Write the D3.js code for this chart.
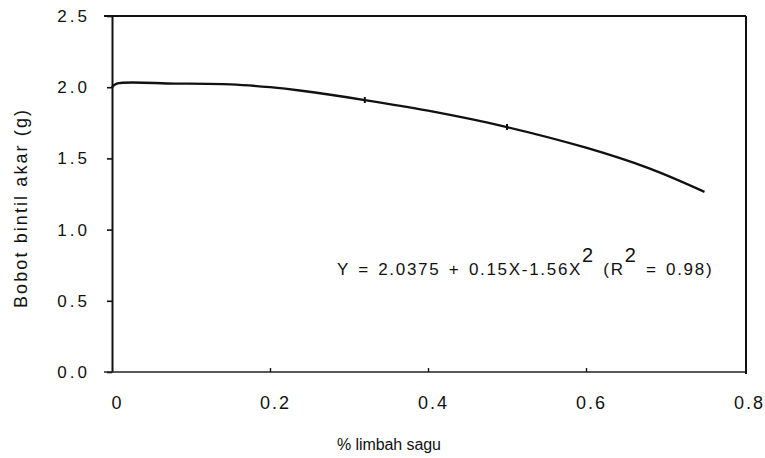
<!DOCTYPE html>
<html>
<head>
<meta charset="utf-8">
<script src="https://cdn.jsdelivr.net/npm/d3@7"></script>
<style>
  body { margin: 0; background: #fff; }
  svg text { font-family: "Liberation Sans", Arial, sans-serif; fill: #111; }
</style>
</head>
<body>
<svg id="svg1" width="765" height="458"></svg>
<script>
// values
var limbah = [0, 0.006, 0.08, 0.15, 0.2, 0.24, 0.32, 0.4, 0.5, 0.6, 0.68, 0.75];
var bobot  = [2.00, 2.025, 2.025, 2.02, 2.0, 1.975, 1.91, 1.835, 1.72, 1.575, 1.43, 1.265];
var markAt = [0.32, 0.5];

var xTicks = [0, 0.2, 0.4, 0.6, 0.8];
var yTicks = [0, 0.5, 1.0, 1.5, 2.0, 2.5];

var svg = d3.select('#svg1');

var plotLeft = 112, plotRight = 746, plotTop = 16, plotBottom = 372;

var scaleX = d3.scaleLinear().domain([0, 0.8]).range([plotLeft, plotRight - 2]);
var scaleY = d3.scaleLinear().domain([0, 2.5]).range([plotBottom, plotTop]);

// y axis
var yAxis = svg.append('g')
    .attr('transform', 'translate(' + plotLeft + ',0)')
    .call(d3.axisLeft(scaleY).tickValues(yTicks).tickFormat(d3.format('.1f'))
        .tickSize(5).tickSizeOuter(0).tickPadding(17));
yAxis.select('.domain').attr('stroke', '#111').attr('stroke-width', 2);
yAxis.selectAll('line').attr('stroke', '#111').attr('stroke-width', 1.6);
yAxis.selectAll('text')
    .style('font-size', '17px')
    .style('letter-spacing', '3px')
    .attr('fill', '#111');

// x axis, ticks pointing up into the plot
var xAxis = svg.append('g')
    .attr('transform', 'translate(0,' + plotBottom + ')')
    .call(d3.axisBottom(scaleX).tickValues(xTicks)
        .tickFormat(function(d){ return d === 0 ? '0' : d3.format('.1f')(d); })
        .tickSize(-4).tickSizeOuter(0).tickPadding(24));
xAxis.select('.domain').attr('stroke', '#222').attr('stroke-width', 1.6)
    .attr('d', 'M' + (plotLeft - 8) + ',0H' + plotRight);
xAxis.selectAll('.tick line').attr('stroke', '#111').attr('stroke-width', 1.4)
    .filter(function(d){ return d === 0 || d === 0.8; }).remove();
xAxis.selectAll('text')
    .style('font-size', '18px')
    .style('letter-spacing', '2px')
    .attr('dx', 5)
    .attr('fill', '#111');

// frame top and right
svg.append('line')
    .attr('x1', plotLeft - 8).attr('x2', plotRight)
    .attr('y1', plotTop).attr('y2', plotTop)
    .attr('stroke', '#111').attr('stroke-width', 2);
svg.append('line')
    .attr('x1', plotRight).attr('x2', plotRight)
    .attr('y1', plotTop).attr('y2', plotBottom + 2)
    .attr('stroke', '#111').attr('stroke-width', 2);

// curve
var pts = limbah.map(function(x, i){ return [x, bobot[i]]; });
var line = d3.line()
    .x(function(d){ return scaleX(d[0]); })
    .y(function(d){ return scaleY(d[1]); })
    .curve(d3.curveCatmullRom.alpha(0.5));

svg.append('path')
    .datum(pts)
    .attr('d', line)
    .attr('fill', 'none')
    .attr('stroke', '#111')
    .attr('stroke-width', 2.3);

// small marks on the curve
svg.selectAll('.marks')
    .data(markAt)
    .enter()
    .append('line')
    .attr('class', 'marks')
    .attr('x1', function(d){ return scaleX(d); })
    .attr('x2', function(d){ return scaleX(d); })
    .attr('y1', function(d){ return scaleY(bobot[limbah.indexOf(d)]) - 3; })
    .attr('y2', function(d){ return scaleY(bobot[limbah.indexOf(d)]) + 3; })
    .attr('stroke', '#111')
    .attr('stroke-width', 2);

// axis titles
svg.append('text')
    .attr('x', 389).attr('y', 450)
    .attr('text-anchor', 'middle')
    .attr('textLength', 104)
    .style('font-size', '16px')
    .text('% limbah sagu');

svg.append('text')
    .attr('transform', 'translate(27,209) rotate(-90)')
    .attr('text-anchor', 'middle')
    .attr('textLength', 198)
    .style('font-size', '18px')
    .text('Bobot bintil  akar (g)');

// regression equation
var eq = svg.append('text')
    .attr('x', 337).attr('y', 275)
    .attr('xml:space', 'preserve')
    .style('font-size', '17px')
    .style('letter-spacing', '1.7px')
    .style('word-spacing', '2px');
eq.append('tspan').text('Y = 2.0375 + 0.15X-1.56X');
eq.append('tspan').attr('dy', -13).style('font-size', '20px').text('2');
eq.append('tspan').attr('dy', 13).text(' (R');
eq.append('tspan').attr('dy', -13).style('font-size', '20px').text('2');
eq.append('tspan').attr('dy', 13).text(' = 0.98)');
</script>
</body>
</html>
